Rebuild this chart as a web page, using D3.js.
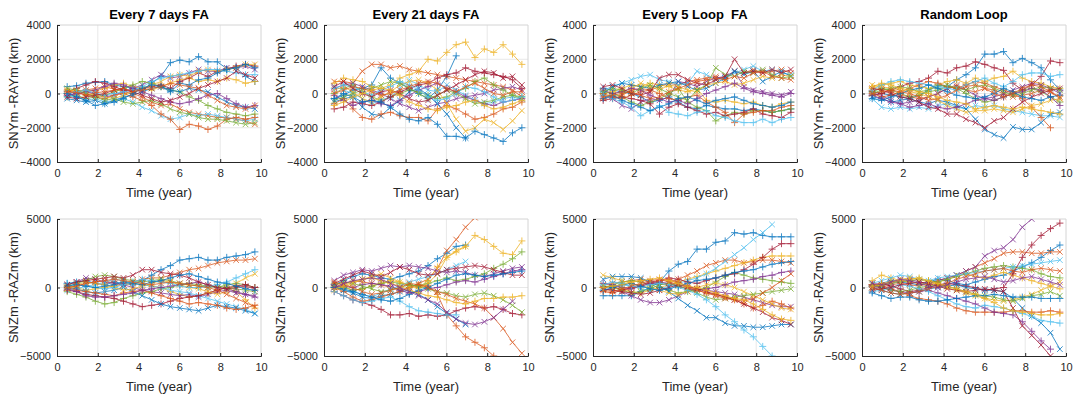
<!DOCTYPE html>
<html>
<head>
<meta charset="utf-8">
<script src="https://cdn.jsdelivr.net/npm/d3@7"></script>
<style>
  body { margin: 0; background: #fff; }
  svg { display: block; font-family: "Liberation Sans", Arial, sans-serif; }
  text { white-space: pre; }
</style>
</head>
<body>
<svg id="chart" width="1073" height="397"></svg>
<script>
// sample times (year)
const time = [0.5, 0.96, 1.42, 1.88, 2.34, 2.8, 3.26, 3.72, 4.18, 4.64, 5.1,
  5.56, 6.02, 6.48, 6.94, 7.4, 7.86, 8.32, 8.78, 9.24, 9.7];

const titles = ['Every 7 days FA', 'Every 21 days FA', 'Every 5 Loop  FA', 'Random Loop'];
const xTicks = [0, 2, 4, 6, 8, 10];
const yTicksTop = [-4000, -2000, 0, 2000, 4000];
const yTicksBottom = [-5000, 0, 5000];
const yLabelTop = 'SNYm -RAYm (km)';
const yLabelBottom = 'SNZm -RAZm (km)';

// MATLAB default colour order
const colors = ['#0072BD', '#D95319', '#EDB120', '#7E2F8E', '#77AC30', '#4DBEEE', '#A2142F'];

// ---- SNYm - RAYm (km) ----
const y7days = [
  [400,450,600,650,700,500,400,300,200,600,1000,1800,1950,1850,2150,1850,1850,1450,1500,1000,700],
  [100,150,200,300,400,250,100,0,-200,-500,-700,-600,-900,-1100,-1200,-1300,-1400,-1400,-1500,-1600,-1800],
  [200,100,200,150,300,500,600,400,300,200,400,600,800,900,700,800,700,900,800,600,700],
  [0,-100,100,0,-200,-100,100,300,500,800,1100,900,1000,1200,1400,1300,1300,1500,1500,1600,1400],
  [-200,-100,-300,-200,-100,100,300,500,700,600,400,200,100,-200,-400,-700,-900,-1100,-1200,-1300,-1200],
  [-100,-200,-400,-300,-500,-400,-300,-500,-800,-1000,-1300,-1500,-1400,-1200,-1300,-1200,-1300,-1400,-1500,-1600,-1500],
  [100,300,500,700,600,400,200,100,300,400,500,300,700,900,1200,1000,1300,1400,1600,1700,1600],
  [-300,-400,-500,-400,-600,-400,-200,-100,100,300,400,200,100,300,200,100,-200,-500,-700,-800,-900],
  [0,100,-100,-200,-300,-100,0,-200,-400,-700,-1200,-1500,-2100,-1800,-1900,-2100,-1900,-1500,-1400,-1500,-1400],
  [200,150,0,-100,-200,-300,-100,100,300,500,700,1000,1100,1000,1300,1400,1300,1400,1500,1700,1700],
  [-100,0,100,200,400,600,500,300,100,-100,-300,-500,-600,-500,-300,-100,0,-300,-600,-800,-700],
  [300,200,0,-200,-400,-300,-500,-600,-500,-400,-600,-900,-1100,-1200,-1400,-1500,-1500,-1600,-1700,-1800,-1700],
  [0,100,200,0,-100,0,100,200,400,700,900,1000,1100,1200,1300,1400,1400,1300,1200,1100,1100],
  [-200,-300,-200,-100,0,200,300,100,-100,-300,-500,-400,-200,0,300,500,700,900,1300,1100,900],
  [0,-200,-400,-700,-600,-500,-300,0,300,500,400,100,600,500,800,900,1200,1400,1500,1700,1500],
  [100,50,-100,50,100,200,300,100,200,300,400,600,500,400,300,-100,-400,-700,-800,-900,-700]
];
const y21days = [
  [-300,-100,200,300,500,1500,900,600,300,0,-300,200,1000,2200,null,null,null,null,null,null,null],
  [700,700,600,1300,1700,1700,1500,1600,1400,1300,1200,1100,1000,900,800,700,600,500,400,200,-200],
  [600,900,800,700,400,300,500,900,1100,1300,2000,1900,2400,2850,3000,2100,2600,2400,2850,2300,1700],
  [300,500,600,400,200,0,-300,-600,-800,-1000,-800,-600,-500,-300,-200,-100,0,200,300,400,200],
  [0,300,500,100,-200,-400,-200,0,200,100,-100,-300,-200,100,300,700,900,500,200,-100,-200],
  [400,200,0,-300,-600,-400,-200,300,800,500,200,100,500,200,-100,-400,-600,-500,-300,-200,-300],
  [-900,-800,-500,-600,-700,-500,-200,100,300,500,600,900,1100,1200,1500,1300,1200,1100,1000,800,300],
  [-500,-300,-200,-800,-1200,-1300,-800,-400,100,300,-100,-600,-1200,-2000,-2600,null,null,null,null,null,null],
  [-600,-300,-900,-1400,-1500,-1200,-1100,-1300,-1400,-1400,-1600,-900,-700,-900,-1200,-1500,-1400,-1200,-900,-800,-500],
  [200,400,100,-300,-500,-200,100,500,700,800,600,200,-600,-1500,-2200,-2000,-1500,-1700,-2100,-1600,-1000],
  [-100,-400,-700,-500,-400,-600,-700,-400,-100,200,400,600,300,100,-200,-400,-600,-700,-500,-400,-300],
  [-400,-200,0,200,300,500,700,600,300,0,-300,-100,200,0,-300,-600,-500,-400,-200,-100,-300],
  [300,500,400,100,-100,200,400,700,500,200,-200,-400,-300,0,400,300,100,-200,-500,-400,-200],
  [400,700,300,0,-200,100,200,0,-300,-500,-400,-100,200,500,800,1100,1300,1200,900,1000,500],
  [-300,0,-200,-500,-400,-500,-800,-1200,-1500,-1600,-1400,-1800,-2500,-2500,-2600,-2200,-2400,-2600,-2800,-2300,-2000],
  [0,200,400,300,100,-100,0,200,400,600,700,600,300,100,400,600,300,0,-100,100,100],
  [-700,-500,-200,0,200,300,200,-100,-500,-700,-900,-1000,-800,-700,-500,-400,-700,-900,-800,-600,-400]
];
const y5loop = [
  [300,200,100,0,-200,-500,-400,-200,-500,-800,-900,-700,-800,-900,-900,-1000,-900,-1000,-1100,-1000,-900],
  [-300,-200,-100,200,300,200,400,600,500,700,800,900,1000,800,1300,1200,1400,1200,1300,1400,1200],
  [0,100,300,500,400,600,500,400,200,100,300,-400,-500,-400,-500,-600,-500,-700,-800,-600,-500],
  [-100,-300,-700,-900,-500,-300,-400,-200,700,600,400,700,900,1000,1300,400,200,100,0,-100,100],
  [100,0,-200,-500,-700,-500,-300,0,300,-500,-800,-1000,-1600,-1300,-1100,-1200,-1000,-1000,-1100,-1000,-900],
  [200,400,600,800,1000,1100,800,700,500,600,1300,1100,800,900,1200,1400,1600,1300,1400,1200,1100],
  [-400,-300,-200,-300,-400,-600,-1200,-800,-600,-800,-1000,-1200,-1100,-1300,-1200,-1100,-900,-1200,-1300,-1400,-1100],
  [0,400,600,500,400,300,500,600,700,400,200,300,600,900,1300,1100,1300,700,1000,1300,1000],
  [0,-200,-300,-100,100,200,0,-300,-400,-200,-100,-500,-800,-1100,-1700,-1200,-1100,-1000,-1000,-800,-700],
  [-200,0,100,300,600,400,200,500,400,200,100,500,600,700,500,600,800,1000,900,1100,1000],
  [200,0,100,300,200,-100,-300,-500,-400,-600,-300,0,200,400,600,300,100,0,-100,-200,0],
  [100,300,200,0,300,500,300,0,-200,-400,200,500,1500,1100,1000,1300,1200,1400,1100,900,1000],
  [-100,-300,-500,-800,-1300,-1000,-700,-1100,-1200,-1300,-1100,-1000,-1300,-1400,-1600,-1700,-1700,-1500,-1700,-1500,-1400],
  [400,500,300,0,-100,100,900,1100,1100,800,600,500,800,1000,2000,1200,1300,1200,1400,1200,1400],
  [-300,-100,-400,-600,-800,-1000,-800,-600,-300,-200,-400,-600,-400,-300,-200,-400,-600,-700,-800,-700,-500],
  [-200,-100,0,100,-100,-300,-200,100,300,500,700,800,900,800,1000,900,1200,1300,1000,900,800]
];
const yRandom = [
  [100,0,-100,-200,-300,-100,200,500,400,800,1100,1500,2300,2300,2450,1800,2050,1800,1500,800,200],
  [200,300,100,-100,-200,-300,-200,0,300,500,200,100,300,200,0,-200,-100,0,200,100,-300],
  [300,500,600,700,500,400,300,500,700,800,600,900,700,900,1000,1300,900,700,600,400,300],
  [0,-100,-400,-600,-500,-400,-200,0,300,400,200,-100,-300,-200,0,200,400,600,500,300,0],
  [100,300,200,0,-200,-100,100,200,400,300,0,-300,-500,-400,-200,0,200,300,100,-200,-500],
  [-300,-800,-900,-800,-900,-800,-900,-700,-600,-800,-900,-700,-800,-700,-900,-1000,-1100,-1200,-1300,-1300,-1400],
  [-100,0,200,400,600,700,900,1300,1200,1500,1600,1850,1700,1500,1350,600,200,500,1000,1900,1800],
  [-200,-300,-500,-400,-300,-500,-600,-400,-500,-700,-900,-1500,-2100,-2400,-2600,-1950,-2100,-2100,-1700,-1200,-1100],
  [0,-200,-100,100,300,500,700,600,400,300,500,700,600,400,200,0,-300,-800,-1400,-2000,null],
  [500,400,300,200,100,0,-200,-400,-700,-900,-1100,-1000,-1000,-900,-1000,-1100,-900,-700,-600,-400,-300],
  [-100,-300,-500,-600,-800,-700,-600,-800,-900,-800,-600,-400,-300,-400,-200,0,100,300,200,-200,-700],
  [0,200,300,400,300,100,200,400,500,300,200,400,500,300,100,-100,0,200,400,300,200],
  [200,500,700,800,700,600,500,400,300,200,500,700,900,600,400,700,1100,1200,1200,1000,1100],
  [300,200,0,-200,-300,-500,-800,-900,-1200,-1200,-1500,-1700,-2000,-1600,-1400,-900,-500,-200,0,200,300],
  [-300,-400,-200,0,200,300,500,300,100,-100,-200,-300,-200,0,300,100,-200,-300,-400,-200,-100],
  [0,100,200,100,0,-200,-400,-300,-100,200,400,500,300,0,-200,0,300,500,400,100,-200],
  [400,600,500,300,200,100,0,-200,-400,-500,-600,-900,-800,-700,-800,-900,-800,-900,-1000,-1100,-1200]
];

// ---- SNZm - RAZm (km) ----
const z7days = [
  [300,400,500,300,200,400,300,200,500,900,1300,1600,2000,2100,2200,2000,2000,2200,2300,2400,2600],
  [0,100,300,400,500,300,200,400,600,700,700,900,1100,1300,1400,1600,1800,1900,2000,2000,2100],
  [100,0,-200,-100,0,100,200,300,200,100,0,-300,-500,-700,-600,-400,-200,0,-300,-900,-1500],
  [200,400,700,600,400,300,200,0,-200,-300,-400,-500,-600,-500,-700,-500,-300,-200,-400,-500,-600],
  [-300,-500,-700,-1000,-1200,-1100,-800,-600,-400,-300,-100,0,200,300,200,100,0,200,300,200,0],
  [-200,-100,100,200,400,600,500,300,200,100,0,-200,-300,-400,-600,-800,-1000,-1200,-1400,-1600,-1900],
  [-200,-300,-500,-600,-700,-800,-1000,-1200,-1400,-1300,-1200,-1000,-800,-700,-600,-400,-200,0,100,200,0],
  [0,-100,-300,-400,-300,-200,0,-300,-600,-900,-1200,-1400,-1500,-1600,-1700,-1500,-1300,-1400,-1500,-1700,-1900],
  [0,-200,-300,-400,-500,-600,-400,-300,-200,-400,-600,-800,-1000,-1200,-1100,-1200,-1300,-1500,-1600,-1500,-1300],
  [-100,200,400,300,200,0,-200,-100,100,300,500,400,200,0,-100,-300,-500,-300,300,700,1000],
  [-100,-300,-600,-700,-700,-600,-500,-400,-200,-100,0,100,200,300,400,200,0,-100,-300,-500,-700],
  [100,300,500,800,900,800,600,500,400,500,600,500,300,200,100,0,100,0,-100,-200,-300],
  [300,200,100,0,-100,0,200,400,600,500,400,300,100,0,0,100,200,400,700,1000,1300],
  [200,400,500,600,700,800,700,900,1300,1300,1100,1000,900,700,400,200,0,-100,0,100,-100],
  [100,200,100,0,100,200,400,300,200,400,500,700,900,1000,800,600,400,300,100,-100,-200],
  [0,100,300,400,500,600,500,400,300,200,300,400,300,200,100,0,-200,-500,-800,-1100,-1400]
];
const z21days = [
  [200,500,800,1000,900,700,600,800,1000,1200,1600,2100,2500,3000,3100,null,null,null,null,null,null],
  [0,200,500,400,300,200,0,-200,0,300,600,1400,2700,3500,4400,5100,5800,null,null,null,null],
  [300,100,-200,-100,100,300,500,400,200,0,500,1500,2200,2600,3000,3800,3500,3000,2500,2400,3400],
  [500,900,1100,1300,1200,1400,1600,1500,1600,1500,1400,1200,1100,1200,1100,900,800,1000,1200,1400,1500],
  [100,0,-200,-100,100,300,400,300,200,100,300,500,700,500,600,800,1000,1400,1700,2100,2600],
  [100,-200,-300,-500,-700,-400,-100,100,400,600,800,1000,1300,1600,1900,null,null,null,null,null,null],
  [-300,-600,-900,-1100,-1300,-1600,-2000,-2000,-1900,-2100,-2000,-2100,-2000,-1700,-1500,-1400,-1500,-1400,-1600,-1900,-2000],
  [0,-200,-400,-700,-800,-600,-500,-300,-200,-500,-900,-1400,-1900,-2300,-2700,null,null,null,null,null,null],
  [0,-300,-700,-1000,-900,-700,-500,-300,0,200,100,-500,-2000,-2800,-3600,-4000,-4400,-5000,-5500,null,null],
  [-200,0,300,600,800,1000,700,400,100,-100,300,1000,2200,2700,3000,null,null,null,null,null,null],
  [0,100,0,200,300,200,100,-200,-400,-300,-100,0,200,400,500,400,600,800,1000,1200,1300],
  [200,400,300,100,-100,-300,-200,0,200,100,-100,-300,-400,-600,-700,-500,-400,-600,-900,-1300,-1800],
  [-300,-600,-900,-1100,-1000,-800,-700,-1000,-1400,-1700,-1800,-1900,-2000,-2000,null,null,null,null,null,null,null],
  [300,600,900,1200,1000,800,1100,1500,1300,1000,900,1000,1300,1400,1500,1600,1500,1300,1100,900,900],
  [0,-100,-300,-500,-700,-900,-1000,-800,-500,-200,0,300,600,900,1000,900,800,900,1000,1100,1200],
  [400,200,0,-300,-500,-400,-200,0,300,200,0,-300,-500,-800,-1000,-1200,-1500,-2200,-3000,-4000,-4800],
  [-100,100,400,600,700,500,300,100,-200,-400,-600,-700,-900,-1100,-1200,-1000,-800,-800,-700,-700,-600],
  [0,300,500,600,700,600,300,0,-300,-600,-900,-1200,-1800,-2300,-2600,-2700,-2500,-2200,-1600,-1000,null]
];
const z5loop = [
  [-600,-600,-600,-600,-300,0,400,1200,1700,1900,2800,2800,3300,3400,4000,3900,4000,3800,3700,3700,3700],
  [200,300,400,500,600,400,200,300,600,900,1200,1600,1800,2000,2000,1800,1900,2000,2000,1900,1800],
  [100,0,-100,-300,-400,-200,0,200,400,600,800,1000,1200,1400,1600,1800,2000,2200,2300,2300,2300],
  [-100,-200,-300,-600,-900,-1100,-1100,-900,-600,-300,-100,-200,-300,-400,-500,-700,-900,-1100,-1300,-1400,-1400],
  [0,200,400,500,400,200,0,-200,-400,-300,-200,0,400,800,1100,900,700,600,500,400,300],
  [0,100,200,100,-100,-200,-100,100,300,500,700,1000,1400,1900,2400,2900,3500,4000,4600,null,null],
  [0,100,-200,0,200,400,500,700,600,400,300,500,700,900,1000,1300,1700,2200,2800,3200,3200],
  [600,800,800,800,700,400,100,-300,-800,-1300,-1700,-2200,-2200,-2600,-2800,-2800,-2900,-2900,-2800,-2700,-2700],
  [-300,-400,-200,-100,100,300,500,600,400,100,-200,-400,-500,-700,-900,-1200,-1500,-1300,-1000,-1200,-1500],
  [900,700,500,300,100,0,-200,-400,-500,-300,0,200,300,200,0,-300,-600,-900,-1200,-1500,-1600],
  [300,200,0,-100,100,300,400,300,100,-100,-200,-100,0,200,400,500,600,800,900,1100,1200],
  [100,0,-200,-400,-300,-100,200,300,100,-100,-400,-700,-900,-800,-700,-600,-500,-400,-300,-200,-100],
  [200,400,300,100,0,200,300,200,0,-200,-500,-900,-1400,-2000,-2500,-3100,-3600,-4300,-5000,-5600,null],
  [-100,-200,-300,-400,-500,-400,-200,0,200,100,-100,-300,-500,-700,-900,-1200,-1500,-1800,-2200,-2400,-2700],
  [-200,0,200,300,100,-100,-200,-100,100,300,500,600,700,900,1100,1200,1300,1500,1700,1800,1900],
  [-200,-300,-100,100,300,500,600,400,200,0,-200,-400,-600,-800,-900,-1000,-800,-400,0,500,1000],
  [0,100,200,400,500,600,700,500,300,100,0,-200,-400,-600,-800,-900,-1200,-1600,-2000,-2300,-2400]
];
const zRandom = [
  [100,300,500,400,300,200,400,600,500,300,200,400,600,800,900,1200,1500,1800,2200,2700,3100],
  [-100,0,200,300,200,100,300,500,700,900,1200,1500,1800,2100,2500,2600,2600,2500,2500,2600,2600],
  [500,900,700,500,400,300,200,400,600,800,1000,800,700,900,1100,900,700,500,300,100,-100],
  [0,100,300,500,600,400,300,500,700,900,1200,1500,2300,2700,2900,3500,4400,5000,5600,null,null],
  [100,200,300,400,500,600,500,400,600,800,1000,1200,1400,1500,1600,1500,1400,1300,1000,800,700],
  [300,500,700,900,800,600,500,700,800,900,1000,1100,1200,1300,1400,1500,1600,1700,1800,1900,2000],
  [200,300,100,-100,-300,-200,0,200,300,200,100,0,-200,-100,0,1000,2200,3100,3800,4300,4700],
  [0,-200,-400,-500,-400,-300,-100,0,100,200,0,-100,-200,-200,-300,-800,-1500,-2100,-2600,-3300,-4500],
  [200,100,-100,-300,-600,-800,-900,-1000,-1200,-1500,-1700,-1800,-1800,-1800,-1800,-1700,-1700,-1800,-1800,-1700,-1800],
  [0,200,400,600,700,600,400,200,0,-200,-400,-600,-800,-900,-1000,-900,-700,-500,-200,100,400],
  [100,0,-200,-300,-400,-300,-200,-400,-600,-800,-1000,-1200,-1500,-1800,-1900,-2000,-2500,-3200,-3900,-4500,null],
  [200,0,-200,-300,-200,0,100,200,100,-100,-300,-500,-600,-700,-900,-1000,-800,-600,-500,-300,-600],
  [-300,-200,0,200,100,-100,-300,-600,-900,-1200,-1400,-1500,-1300,-1400,-1500,-1700,-1900,-2100,-2400,-2500,-2600],
  [-200,-100,0,200,300,400,300,100,-100,-200,-300,-200,-100,-200,-300,-1500,-2800,-3500,-4200,-5000,-5600],
  [-400,-600,-800,-700,-700,-900,-1000,-1000,-900,-800,-700,-600,-600,-500,-600,-700,-700,-700,-800,-800,-800],
  [0,-200,-400,-500,-400,-300,-100,100,300,600,800,1000,1200,1300,1400,1200,1100,1300,1400,1300,1200],
  [100,300,400,500,600,700,500,300,100,-100,-300,-500,-800,-1100,-1500,-1700,-1800,-1900,-2000,-2000,-1900],
  [300,200,400,600,500,300,100,0,200,400,600,700,800,600,400,500,700,800,600,400,200]
];

const topRow = [y7days, y21days, y5loop, yRandom];
const bottomRow = [z7days, z21days, z5loop, zRandom];

const svg = d3.select('#chart');
const panelLefts = [57, 324, 593, 862];
const panelWidth = 204;
const panelHeight = 137;
const rowTops = [25, 219];
const axisColor = '#262626';

function drawPanel(series, left, top, yDomain, yTicks, yLabel, title, id) {
  const x = d3.scaleLinear().domain([0, 10]).range([left, left + panelWidth]);
  const y = d3.scaleLinear().domain(yDomain).range([top + panelHeight, top]);
  const g = svg.append('g');

  // clip to the axes box
  svg.append('clipPath').attr('id', 'clip' + id)
    .append('rect')
    .attr('x', left).attr('y', top)
    .attr('width', panelWidth).attr('height', panelHeight);

  // grid
  g.append('g').selectAll('line').data(xTicks.slice(1, -1)).join('line')
    .attr('x1', d => x(d)).attr('x2', d => x(d))
    .attr('y1', top).attr('y2', top + panelHeight)
    .attr('stroke', '#e8e8e8').attr('stroke-width', 1);
  g.append('g').selectAll('line').data(yTicks.slice(1, -1)).join('line')
    .attr('x1', left).attr('x2', left + panelWidth)
    .attr('y1', d => y(d)).attr('y2', d => y(d))
    .attr('stroke', '#e8e8e8').attr('stroke-width', 1);

  // top and right box edges
  g.append('path')
    .attr('d', `M${left},${top}H${left + panelWidth}V${top + panelHeight}`)
    .attr('fill', 'none').attr('stroke', '#d4d4d4').attr('stroke-width', 1);

  const plot = g.append('g').attr('clip-path', `url(#clip${id})`);
  const line = d3.line()
    .defined(d => d != null)
    .x((d, i) => x(time[i]))
    .y(d => y(d));

  series.forEach((s, k) => {
    const c = colors[k % colors.length];
    const sg = plot.append('g').attr('opacity', 0.85);
    sg.append('path').datum(s)
      .attr('d', line)
      .attr('fill', 'none')
      .attr('stroke', c)
      .attr('stroke-width', 0.9);
    const pts = s.map((v, i) => ({ t: time[i], v })).filter(p => p.v != null);
    const m = 3.5;
    const markerPath = k % 2 === 0
      ? p => `M${x(p.t) - m},${y(p.v)}h${2 * m}M${x(p.t)},${y(p.v) - m}v${2 * m}`
      : p => `M${x(p.t) - m * 0.8},${y(p.v) - m * 0.8}l${1.6 * m},${1.6 * m}M${x(p.t) - m * 0.8},${y(p.v) + m * 0.8}l${1.6 * m},${-1.6 * m}`;
    sg.selectAll('path.mk').data(pts).join('path')
      .attr('class', 'mk')
      .attr('d', markerPath)
      .attr('stroke', c)
      .attr('stroke-width', 0.9)
      .attr('fill', 'none');
  });

  // axes
  const xAxis = d3.axisBottom(x).tickValues(xTicks).tickSize(-3).tickPadding(7).tickFormat(d3.format('d'));
  const yAxis = d3.axisLeft(y).tickValues(yTicks).tickSize(-3).tickPadding(6).tickFormat(d3.format('d'));
  const gx = g.append('g').attr('transform', `translate(0,${top + panelHeight})`).call(xAxis);
  const gy = g.append('g').attr('transform', `translate(${left},0)`).call(yAxis);
  [gx, gy].forEach(a => {
    a.select('.domain').attr('stroke', axisColor);
    a.selectAll('.tick line').attr('stroke', axisColor);
    a.selectAll('.tick text').attr('fill', axisColor)
      .style('font-size', '11px').style('font-family', '"Liberation Sans", Arial, sans-serif');
  });

  g.append('text')
    .attr('x', left + panelWidth / 2).attr('y', top + panelHeight + 35)
    .attr('text-anchor', 'middle').attr('fill', axisColor)
    .style('font-size', '13px')
    .text('Time (year)');

  g.append('text')
    .attr('transform', `translate(${left - 39},${top + panelHeight / 2}) rotate(-90)`)
    .attr('text-anchor', 'middle').attr('fill', axisColor)
    .style('font-size', '13px')
    .text(yLabel);

  if (title) {
    g.append('text')
      .attr('x', left + panelWidth / 2).attr('y', top - 6)
      .attr('text-anchor', 'middle').attr('fill', '#000')
      .style('font-size', '13px').style('font-weight', 'bold')
      .text(title);
  }
}

topRow.forEach((s, i) =>
  drawPanel(s, panelLefts[i], rowTops[0], [-4000, 4000], yTicksTop, yLabelTop, titles[i], 't' + i));
bottomRow.forEach((s, i) =>
  drawPanel(s, panelLefts[i], rowTops[1], [-5000, 5000], yTicksBottom, yLabelBottom, null, 'b' + i));
</script>
</body>
</html>
